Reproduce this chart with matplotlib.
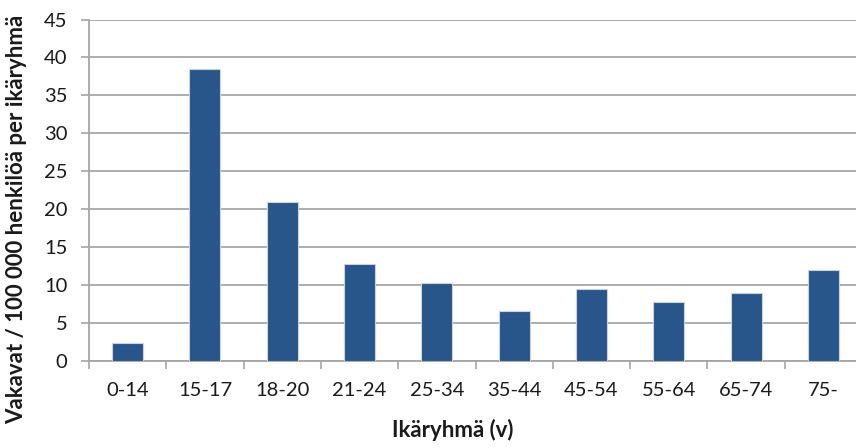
import matplotlib
matplotlib.use("Agg")
import matplotlib.pyplot as plt
import numpy as np

# Age groups and rates of serious injuries per 100 000 persons
age_groups = ["0-14", "15-17", "18-20", "21-24", "25-34", "35-44",
              "45-54", "55-64", "65-74", "75-"]
rates = [2.3, 38.5, 21.0, 12.7, 10.2, 6.6, 9.4, 7.8, 8.9, 11.9]
y_ticks = [0, 5, 10, 15, 20, 25, 30, 35, 40, 45]

plt.rcParams["font.family"] = ["Lato", "DejaVu Sans"]

W, H = 856, 448
fig = plt.figure(figsize=(W / 100, H / 100), dpi=100)
left, right = 89, 862
bottom, top = 360.7, 19.6
ax = fig.add_axes([left / W, (H - bottom) / H, (right - left) / W, (bottom - top) / H])

x = np.arange(len(age_groups))
ax.bar(x, rates, width=0.4, color="#28558A", edgecolor="#c8d4e6", linewidth=0.8, zorder=3)

ax.set_xlim(-0.5, len(age_groups) - 0.5)
ax.set_ylim(0, 45)
ax.set_yticks(y_ticks)
ax.set_yticklabels([str(t) for t in y_ticks], fontsize=14.5, color="#1a1a1a")
ax.yaxis.grid(True, color="#a6a6a6", linewidth=1.3, zorder=0)
ax.set_axisbelow(True)

# category labels centred under bars, tick marks between categories
ax.set_xticks(x)
ax.set_xticklabels(age_groups, fontsize=14.5, color="#1a1a1a")
ax.tick_params(axis="x", length=0, pad=15)
ax.set_xticks(np.arange(-0.5, len(age_groups)), minor=True)
ax.tick_params(axis="x", which="minor", length=6, width=1.2, color="#a6a6a6")
ax.tick_params(axis="y", length=6, width=1.2, color="#a6a6a6", pad=9.5)

for side in ["top", "right"]:
    ax.spines[side].set_visible(False)
for side in ["left", "bottom"]:
    ax.spines[side].set_color("#a6a6a6")
    ax.spines[side].set_linewidth(1.3)

ax.set_ylabel("Vakavat / 100 000 henkilöä per ikäryhmä", fontsize=16,
              fontweight="bold", color="#1a1a1a", va="center")
ax.set_xlabel("Ikäryhmä (v)", fontsize=16, fontweight="bold", color="#1a1a1a", va="top")
ax.yaxis.set_label_coords((17 - left) / (right - left), (bottom - 219) / (bottom - top))
ax.xaxis.set_label_coords((453 - left) / (right - left), -(419 - bottom) / (bottom - top))

fig.savefig("out.png", dpi=100)
